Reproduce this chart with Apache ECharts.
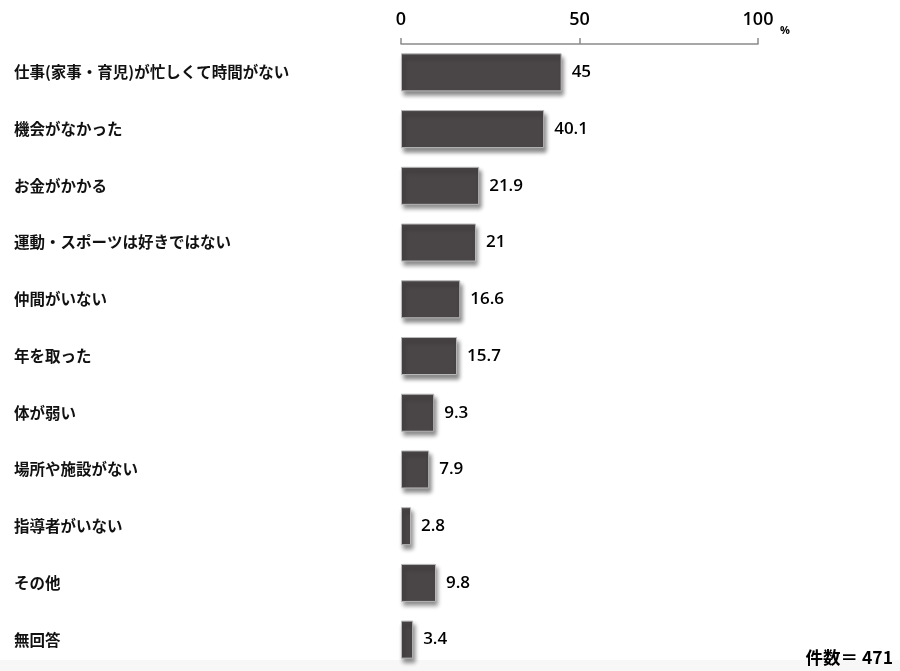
<!DOCTYPE html>
<html>
<head>
<meta charset="utf-8">
<script src="https://cdn.jsdelivr.net/npm/echarts@6/dist/echarts.min.js"></script>
<style>
  html, body { margin: 0; padding: 0; background: #fff; }
  #chart { width: 900px; height: 671px; }
</style>
</head>
<body>
<div id="chart"></div>
<script>
// Reasons for not doing sport (%), n = 471
const categories = [
  '仕事(家事・育児)が忙しくて時間がない',
  '機会がなかった',
  'お金がかかる',
  '運動・スポーツは好きではない',
  '仲間がいない',
  '年を取った',
  '体が弱い',
  '場所や施設がない',
  '指導者がいない',
  'その他',
  '無回答'
];
const values = [45, 40.1, 21.9, 21, 16.6, 15.7, 9.3, 7.9, 2.8, 9.8, 3.4];
const axisTicks = [0, 50, 100];
const sampleNote = '件数＝ 471';

const cjk = '"Noto Sans CJK JP", "Noto Sans", sans-serif';
const num = '"Open Sans", "Liberation Sans", sans-serif';

const chart = echarts.init(document.getElementById('chart'), null, { renderer: 'canvas' });
chart.setOption({
  animation: false,
  backgroundColor: '#ffffff',
  grid: { left: 401, top: 44, width: 357, height: 624, containLabel: false },
  xAxis: {
    type: 'value',
    position: 'top',
    min: axisTicks[0],
    max: axisTicks[axisTicks.length - 1],
    interval: axisTicks[1] - axisTicks[0],
    name: '%',
    nameLocation: 'end',
    nameGap: 22,
    nameTextStyle: { fontFamily: num, fontSize: 11, fontWeight: 'bold', color: '#000', verticalAlign: 'bottom', padding: [0, 0, 8, 0] },
    axisLine: { show: true, lineStyle: { color: '#8a8a8a', width: 1.5 } },
    axisTick: { show: true, length: 6, inside: false, lineStyle: { color: '#8a8a8a', width: 1.5 } },
    axisLabel: { margin: 15, fontFamily: num, fontSize: 18, fontWeight: 600, color: '#000' },
    splitLine: { show: false }
  },
  yAxis: {
    type: 'category',
    data: categories,
    inverse: true,
    axisLine: { show: false },
    axisTick: { show: false },
    axisLabel: {
      align: 'left',
      margin: 387,
      fontFamily: cjk,
      fontSize: 15.5,
      fontWeight: 'bold',
      color: '#111'
    }
  },
  series: [{
    type: 'bar',
    data: values,
    barWidth: 38,
    itemStyle: {
      color: '#4a4547',
      borderColor: '#b8b8b8',
      borderWidth: 1,
      shadowColor: 'rgba(0,0,0,0.45)',
      shadowBlur: 4,
      shadowOffsetX: 2,
      shadowOffsetY: 4
    },
    label: {
      show: true,
      position: 'right',
      distance: 10,
      fontFamily: num,
      fontSize: 17,
      fontWeight: 600,
      color: '#000'
    }
  }],
  graphic: [
    {
      type: 'rect',
      z: -10,
      shape: { x: 0, y: 660, width: 900, height: 11 },
      style: { fill: '#f7f7f7' }
    },
    {
      type: 'text',
      right: 7,
      top: 649,
      style: { text: sampleNote, fontFamily: cjk, fontSize: 17.5, fontWeight: 'bold', fill: '#000' }
    }
  ]
});
</script>
</body>
</html>
